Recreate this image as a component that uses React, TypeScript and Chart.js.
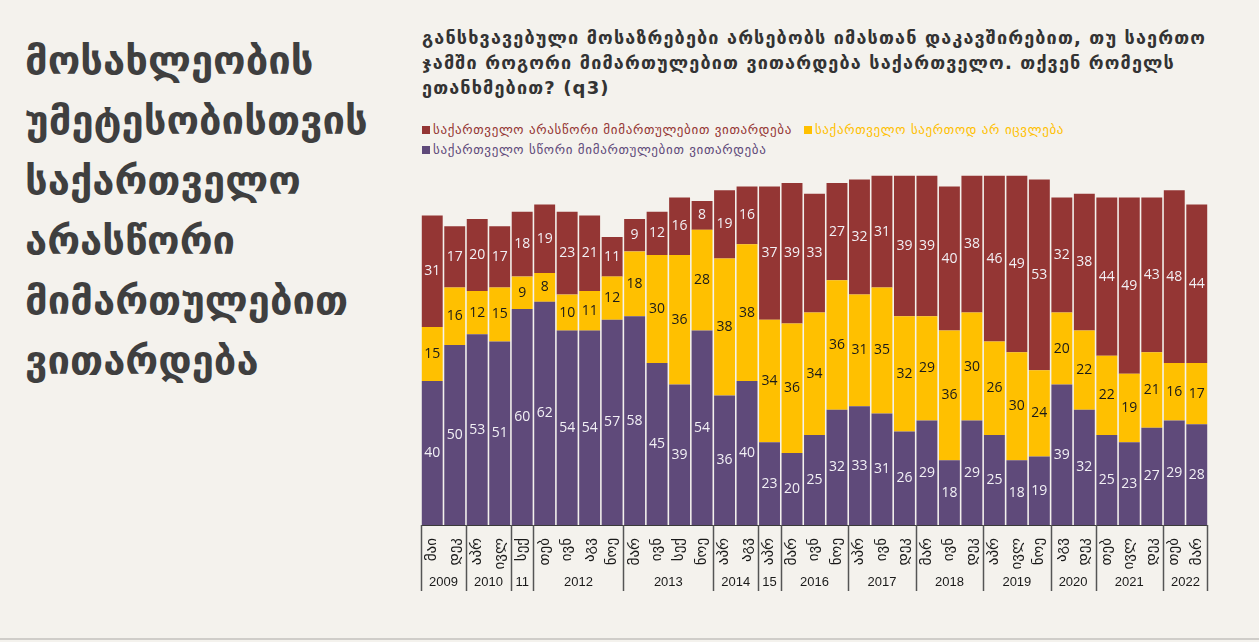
import { useEffect, useRef } from 'react';
import { Chart, registerables } from 'chart.js';

Chart.register(...registerables);

const months = [
  'მაი', 'დეკ', 'აპრ', 'ივლ', 'სექ', 'თებ', 'ივნ', 'აგვ', 'ნოე',
  'მარ', 'ივნ', 'სექ', 'ნოე', 'აპრ', 'აგვ', 'აპრ', 'მარ', 'ივნ',
  'ნოე', 'აპრ', 'ივნ', 'დეკ', 'მარ', 'ივნ', 'დეკ', 'აპრ', 'ივლ',
  'ნოე', 'აგვ', 'დეკ', 'თებ', 'ივლ', 'დეკ', 'თებ', 'მარ',
];

const yearLabels = ['2009', '2010', '11', '2012', '2013', '2014', '15', '2016', '2017', '2018', '2019', '2020', '2021', '2022'];
const yearSpans = [2, 2, 1, 4, 4, 2, 1, 3, 3, 3, 3, 2, 3, 2];

const rightDir = [40, 50, 53, 51, 60, 62, 54, 54, 57, 58, 45, 39, 54, 36, 40, 23, 20, 25, 32, 33, 31, 26, 29, 18, 29, 25, 18, 19, 39, 32, 25, 23, 27, 29, 28];
const noChange = [15, 16, 12, 15, 9, 8, 10, 11, 12, 18, 30, 36, 28, 38, 38, 34, 36, 34, 36, 31, 35, 32, 29, 36, 30, 26, 30, 24, 20, 22, 22, 19, 21, 16, 17];
const wrongDir = [31, 17, 20, 17, 18, 19, 23, 21, 11, 9, 12, 16, 8, 19, 16, 37, 39, 33, 27, 32, 31, 39, 39, 40, 38, 46, 49, 53, 32, 38, 44, 49, 43, 48, 44];

const seriesNames = [
  'საქართველო სწორი მიმართულებით ვითარდება',
  'საქართველო საერთოდ არ იცვლება',
  'საქართველო  არასწორი მიმართულებით ვითარდება',
];

const PURPLE = '#5f4a7a';
const YELLOW = '#ffc000';
const RED = '#943634';
const BG = '#f4f2ed';
const GEO = "'DejaVu Sans', sans-serif";

const labelPlugin = {
  id: 'segmentLabels',
  afterDatasetsDraw(chart: any) {
    const ctx = chart.ctx;
    ctx.save();
    ctx.font = "14px 'Open Sans', sans-serif";
    ctx.textAlign = 'center';
    ctx.textBaseline = 'middle';
    chart.data.datasets.forEach((ds: any, di: number) => {
      const meta = chart.getDatasetMeta(di);
      ctx.fillStyle = di === 1 ? '#1a1a1a' : '#f2f0f5';
      meta.data.forEach((el: any, i: number) => {
        const v = ds.data[i];
        ctx.fillText(String(v), el.x, (el.y + el.base) / 2);
      });
    });
    ctx.restore();
  },
};

const yearPlugin = {
  id: 'yearGroups',
  afterDraw(chart: any) {
    const { ctx, chartArea } = chart;
    const x = chart.scales.x;
    const bottom = chartArea.bottom;
    const sepBottom = bottom + 66;
    const edge = (i: number) => {
      if (i <= 0) return chartArea.left;
      if (i >= months.length) return chartArea.right;
      return (x.getPixelForValue(i - 1) + x.getPixelForValue(i)) / 2;
    };
    ctx.save();
    ctx.strokeStyle = '#3a3a3a';
    ctx.lineWidth = 1.2;
    ctx.beginPath();
    ctx.moveTo(chartArea.left, bottom + 0.5);
    ctx.lineTo(chartArea.right, bottom + 0.5);
    ctx.stroke();
    ctx.strokeStyle = '#555';
    ctx.lineWidth = 1.5;
    ctx.font = "13px 'Liberation Sans', Arial, sans-serif";
    ctx.fillStyle = '#1a1a1a';
    ctx.textAlign = 'center';
    ctx.textBaseline = 'middle';
    let start = 0;
    yearSpans.forEach((n, gi) => {
      const l = edge(start);
      const r = edge(start + n);
      ctx.beginPath();
      ctx.moveTo(Math.round(l) + 0.5, bottom);
      ctx.lineTo(Math.round(l) + 0.5, sepBottom);
      ctx.stroke();
      ctx.fillText(yearLabels[gi], (l + r) / 2, bottom + 57);
      start += n;
    });
    const r = edge(months.length);
    ctx.beginPath();
    ctx.moveTo(Math.round(r) - 0.5, bottom);
    ctx.lineTo(Math.round(r) - 0.5, sepBottom);
    ctx.stroke();
    ctx.restore();
  },
};

function StackedChart() {
  const canvasRef = useRef<HTMLCanvasElement>(null);
  const chartRef = useRef<Chart | null>(null);

  useEffect(() => {
    if (!canvasRef.current) return;
    chartRef.current = new Chart(canvasRef.current, {
      type: 'bar',
      data: {
        labels: months,
        datasets: [
          { label: seriesNames[0], data: rightDir, backgroundColor: PURPLE },
          { label: seriesNames[1], data: noChange, backgroundColor: YELLOW },
          { label: seriesNames[2], data: wrongDir, backgroundColor: RED },
        ].map((d) => ({ ...d, barPercentage: 0.93, categoryPercentage: 1, borderWidth: 0 })),
      },
      options: {
        responsive: true,
        maintainAspectRatio: false,
        animation: false,
        layout: { padding: { top: 5, left: 10, right: 3, bottom: 0 } },
        plugins: { legend: { display: false }, tooltip: { enabled: false } },
        scales: {
          x: {
            stacked: true,
            grid: { display: false },
            border: { display: false },
            afterFit: (scale: any) => {
              scale.height = 70;
              scale.paddingRight = 0;
              scale.paddingLeft = 0;
            },
            ticks: {
              minRotation: 90,
              maxRotation: 90,
              autoSkip: false,
              padding: 5,
              color: '#1a1a1a',
              font: { family: GEO, size: 15 },
            },
          },
          y: { stacked: true, display: false, min: 0, max: 100 },
        },
      },
      plugins: [labelPlugin, yearPlugin],
    });
    return () => {
      chartRef.current?.destroy();
      chartRef.current = null;
    };
  }, []);

  return (
    <div style={{ position: 'absolute', left: 411, top: 160, width: 800, height: 435 }}>
      <canvas ref={canvasRef} />
    </div>
  );
}

function LegendItem({ color, text }: { color: string; text: string }) {
  return (
    <span style={{ marginRight: 12, whiteSpace: 'nowrap' }}>
      <span style={{ display: 'inline-block', width: 8, height: 8, background: color, marginRight: 3 }} />
      <span style={{ color }}>{text}</span>
    </span>
  );
}

export default function App() {
  useEffect(() => {
    document.body.style.margin = '0';
    document.body.style.background = BG;
  }, []);

  return (
    <div style={{ position: 'fixed', left: 0, top: 0, width: 1259, height: 642, background: BG, overflow: 'hidden' }}>
      <div
        style={{
          position: 'absolute', left: 25, top: 30, fontFamily: GEO, fontWeight: 'bold',
          fontSize: 40, lineHeight: '60px', color: '#3f3f3f', whiteSpace: 'nowrap',
        }}
      >
        მოსახლეობის<br />უმეტესობისთვის<br />საქართველო<br />არასწორი<br />მიმართულებით<br />ვითარდება
      </div>
      <div
        style={{
          position: 'absolute', left: 422, top: 25, fontFamily: GEO, fontWeight: 'bold',
          fontSize: 18, lineHeight: '25px', letterSpacing: 1.15, color: '#333', whiteSpace: 'nowrap',
        }}
      >
        განსხვავებული მოსაზრებები არსებობს იმასთან დაკავშირებით, თუ საერთო<br />
        ჯამში როგორი მიმართულებით ვითარდება საქართველო. თქვენ რომელს<br />
        ეთანხმებით? (q3)
      </div>
      <div
        style={{
          position: 'absolute', left: 422, top: 120, fontFamily: GEO, fontSize: 13,
          letterSpacing: 0.65, lineHeight: '20px', whiteSpace: 'nowrap',
        }}
      >
        <div>
          <LegendItem color={RED} text={seriesNames[2]} />
          <LegendItem color={YELLOW} text={seriesNames[1]} />
        </div>
        <div>
          <LegendItem color={PURPLE} text={seriesNames[0]} />
        </div>
      </div>
      <StackedChart />
      <div style={{ position: 'absolute', left: 0, top: 638, width: 1259, height: 2, background: '#cfcdc9' }} />
    </div>
  );
}
